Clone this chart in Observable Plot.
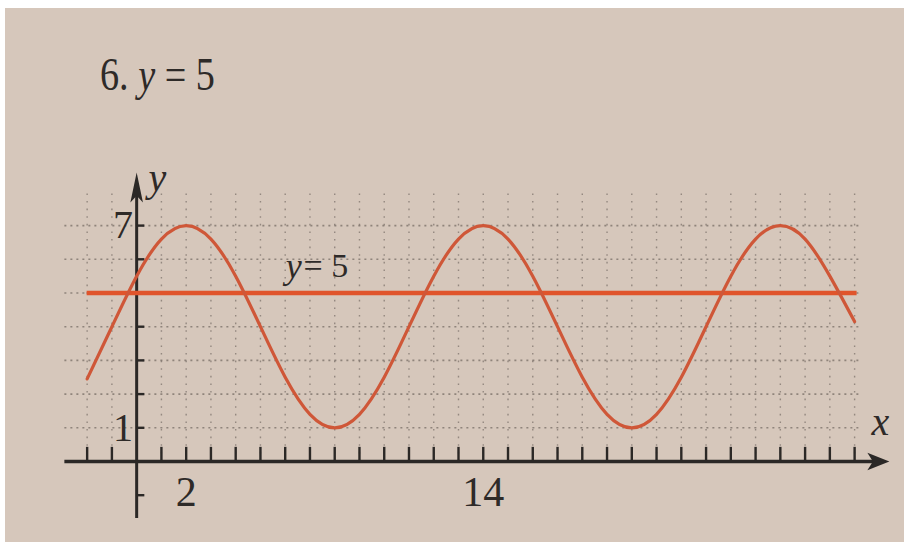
<!DOCTYPE html>
<html>
<head>
<meta charset="utf-8">
<script src="https://cdn.jsdelivr.net/npm/d3@7"></script>
<script src="https://cdn.jsdelivr.net/npm/@observablehq/plot@0.6"></script>
<style>
  html, body { margin: 0; padding: 0; width: 916px; height: 550px; overflow: hidden; background: #fff; }
  #page { position: absolute; left: 5px; top: 8px; width: 899px; height: 534px; background: #d6c7bb; }
  #head { position: absolute; left: 0; top: 0; width: 916px; height: 140px; overflow: hidden; }
  #title { position: absolute; left: 100px; top: 52px; font-family: "Liberation Serif", serif; font-size: 46px;
           line-height: 46px; color: #2e2a28; white-space: nowrap; transform: scaleX(0.83); transform-origin: left top; }
  #chart { position: absolute; left: 0; top: 140px; }
</style>
</head>
<body>
<div id="page"></div>
<div id="head">
  <div id="title">6. <i>y</i> = 5</div>
</div>
<div id="chart"></div>
<script>
// ---- data ----
const waveX = [-2,-1,0,1,2,3,4,5,6,7,8,9,10,11,12,13,14,15,16,17,18,19,20,21,22,23,24,25,26,27,28,29];
const waveY = [2.45,4.0,5.5,6.6,7.0,6.6,5.5,4.0,2.5,1.4,1.0,1.4,2.5,4.0,5.5,6.6,7.0,6.6,5.5,4.0,2.5,1.4,1.0,1.4,2.5,4.0,5.5,6.6,7.0,6.6,5.5,4.15];
const midlineY = [5];
const xTicks = [-2,-1,1,2,3,4,5,6,7,8,9,10,11,12,13,14,15,16,17,18,19,20,21,22,23,24,25,26,27,28,29];
const yTicks = [-1,1,2,3,4,5,6,7];
const gridX = [-2,-1,0,1,2,3,4,5,6,7,8,9,10,11,12,13,14,15,16,17,18,19,20,21,22,23,24,25,26,27,28,29];
const gridY = [1,2,3,4,5,6,7];
const xTickLabels = [2, 14];
const yTickLabels = [1, 7];
const midlineLabelVar = "y";
const midlineLabelRest = "= 5";

const waveData = waveX.map((x, i) => ({x, y: waveY[i]}));

// custom arrowhead symbols (pointing up; rotated where needed)
function arrowSymbol(wRatio, notchRatio) {
  return {
    draw(ctx, size) {
      const r = Math.sqrt(size / Math.PI);
      ctx.moveTo(0, -r);
      ctx.lineTo(wRatio * r, r);
      ctx.lineTo(0, notchRatio * r);
      ctx.lineTo(-wRatio * r, r);
      ctx.closePath();
    }
  };
}
const ink = "#2b2826";
const textInk = "#2e2a28";

const plot = Plot.plot({
  width: 916,
  height: 410,
  marginTop: 0, marginRight: 0, marginBottom: 0, marginLeft: 0,
  style: {background: "transparent", overflow: "visible"},
  x: {domain: [-5.5, 31.5], axis: null},
  y: {domain: [-2.641, 9.525], axis: null},
  marks: [
    // dotted grid
    Plot.ruleX(gridX, {x: d => d, y1: 0, y2: 7.95, stroke: "#7d736c", strokeWidth: 1.4, strokeDasharray: "1.6,6", strokeOpacity: 0.75}),
    Plot.ruleY(gridY, {y: d => d, x1: -2.9, x2: 29.2, stroke: "#7d736c", strokeWidth: 1.6, strokeDasharray: "2,4", strokeOpacity: 0.8}),
    // axes
    Plot.ruleY([0], {x1: -2.9, x2: 29.9, stroke: ink, strokeWidth: 3.4}),
    Plot.ruleX([0], {y1: -1.69, y2: 8.2, stroke: ink, strokeWidth: 3}),
    Plot.dot([{x: 29.96, y: 0}], {x: "x", y: "y", r: 11, rotate: 90, symbol: arrowSymbol(0.8, 0.5), fill: ink, stroke: "none"}),
    Plot.dot([{x: 0, y: 8.13}], {x: "x", y: "y", r: 15, symbol: arrowSymbol(0.42, 0.55), fill: ink, stroke: "none"}),
    // ticks
    Plot.ruleX(xTicks, {x: d => d, y1: 0, y2: 0.42, stroke: ink, strokeWidth: 2.4}),
    Plot.ruleY(yTicks, {y: d => d, x1: 0, x2: 0.33, stroke: ink, strokeWidth: 2.4}),
    // y = 5 line and sinusoid
    Plot.ruleY(midlineY, {y: d => d, x1: -2, x2: 29.1, stroke: "#e0542b", strokeWidth: 4.5}),
    Plot.line(waveData, {x: "x", y: "y", curve: "natural", stroke: "#cf5738", strokeWidth: 3.2}),
    // labels
    Plot.text(xTickLabels, {x: d => d, y: -0.92, text: d => String(d), fontSize: 42, fontFamily: "Liberation Serif", fill: textInk, ariaLabel: "condensed"}),
    Plot.text(yTickLabels, {x: -0.55, y: d => d, text: d => String(d), fontSize: 40, fontFamily: "Liberation Serif", fill: textInk, ariaLabel: "condensed"}),
    Plot.text([midlineLabelVar], {x: 6.02, y: 5.79, text: d => d, textAnchor: "start", fontSize: 36, fontStyle: "italic", fontFamily: "Liberation Serif", fill: textInk, ariaLabel: "condensed2"}),
    Plot.text([midlineLabelRest], {x: 6.74, y: 5.79, text: d => d, textAnchor: "start", fontSize: 34, fontFamily: "Liberation Serif", fill: textInk, ariaLabel: "condensed2"}),
    Plot.text(["y"], {x: 0.84, y: 8.40, text: d => d, fontSize: 40, fontStyle: "italic", fontFamily: "Liberation Serif", fill: textInk, ariaLabel: "condensed"}),
    Plot.text(["x"], {x: 30.04, y: 1.16, text: d => d, fontSize: 40, fontStyle: "italic", fontFamily: "Liberation Serif", fill: textInk, ariaLabel: "condensed"})
  ]
});

function condense(el, s) {
  const tr = el.getAttribute("transform");
  if (tr) el.setAttribute("transform", tr + ` scale(${s},1)`);
  else {
    const x = +(el.getAttribute("x") || 0);
    el.setAttribute("transform", `translate(${x * (1 - s)},0) scale(${s},1)`);
  }
}
plot.querySelectorAll('g[aria-label="condensed"] text').forEach(t => condense(t, 0.72));
plot.querySelectorAll('g[aria-label="condensed2"] text').forEach(t => condense(t, 0.8));

document.getElementById("chart").appendChild(plot);
</script>
</body>
</html>
